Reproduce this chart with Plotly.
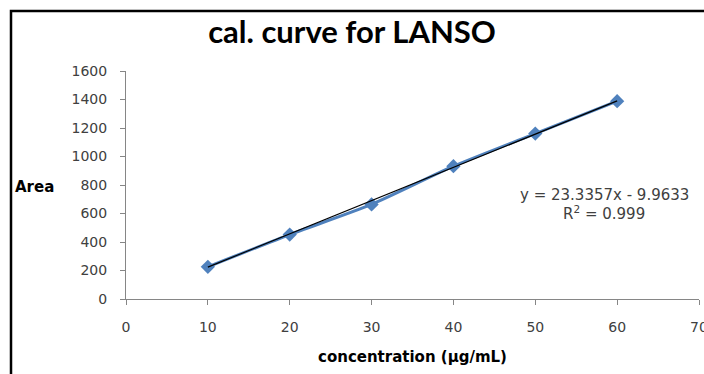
import plotly.graph_objects as go

# data
concentration = [10, 20, 30, 40, 50, 60]
area = [226, 452, 664, 932, 1161, 1388]
slope = 23.3357
intercept = -9.9633
r_squared = 0.999
x_ticks = [0, 10, 20, 30, 40, 50, 60, 70]
y_ticks = [0, 200, 400, 600, 800, 1000, 1200, 1400, 1600]

trend_x = [concentration[0], concentration[-1]]
trend_y = [slope * v + intercept for v in trend_x]

W, H = 704, 374
L, R, T, B = 126, 5, 71, 75
pw, ph = W - L - R, H - T - B

def px_to_paper_x(px):
    return (px - L) / pw

def px_to_paper_y(py):
    return (H - B - py) / ph

fig = go.Figure()
fig.add_trace(go.Scatter(
    x=concentration, y=area, mode="lines+markers",
    line=dict(color="#4F81BD", width=3, shape="spline", smoothing=0.6),
    marker=dict(symbol="diamond", size=11, color="#4F81BD"),
    showlegend=False, hoverinfo="skip"))
fig.add_trace(go.Scatter(
    x=trend_x, y=trend_y, mode="lines",
    line=dict(color="#000000", width=1.2),
    showlegend=False, hoverinfo="skip"))

axis_common = dict(showline=True, linecolor="#868686", linewidth=1,
                   ticks="outside", ticklen=5, tickcolor="#868686",
                   showgrid=False, zeroline=False)

tick_font = dict(family="DejaVu Sans", size=14, color="#404040")
x_ticktext = [str(v) if v < x_ticks[-1] else "" for v in x_ticks]

annotations = [
    dict(text="<b>Area</b>", xref="paper", yref="paper",
         x=px_to_paper_x(13), y=px_to_paper_y(187), xanchor="left", yanchor="middle",
         showarrow=False, font=dict(family="DejaVu Sans", size=15, color="#000000")),
    dict(text="<b>concentration (µg/mL)</b>", xref="paper", yref="paper",
         x=0.5, y=px_to_paper_y(357), xanchor="center", yanchor="middle",
         showarrow=False, font=dict(family="DejaVu Sans", size=15, color="#000000")),
    dict(text=f"y = {slope}x - {abs(intercept)}", xref="paper", yref="paper",
         x=px_to_paper_x(604), y=px_to_paper_y(195), xanchor="center", yanchor="middle",
         showarrow=False, font=dict(family="DejaVu Sans", size=15, color="#404040")),
    dict(text=f"R<sup>2</sup> = {r_squared}", xref="paper", yref="paper",
         x=px_to_paper_x(604), y=px_to_paper_y(213), xanchor="center", yanchor="middle",
         showarrow=False, font=dict(family="DejaVu Sans", size=15, color="#404040")),
    # last x tick label, clipped by the window edge as in the reference
    dict(text=str(x_ticks[-1]), xref="x", yref="paper",
         x=x_ticks[-1], y=px_to_paper_y(327), xanchor="center", yanchor="middle",
         showarrow=False, font=tick_font),
]

fig.update_layout(
    width=W, height=H,
    margin=dict(l=L, r=R, t=T, b=B),
    paper_bgcolor="white", plot_bgcolor="white",
    title=dict(text="<b>cal. curve for LANSO</b>", x=0.5, xanchor="center",
               y=1 - 32 / H, yanchor="middle",
               font=dict(family="Lato", size=31, color="#000000")),
    xaxis=dict(range=[0, 70], tickvals=x_ticks, ticktext=x_ticktext,
               tickfont=tick_font, ticklabelstandoff=10, **axis_common),
    yaxis=dict(range=[0, 1600], tickvals=y_ticks, ticktext=[str(v) for v in y_ticks],
               tickfont=tick_font, ticklabelstandoff=10, **axis_common),
    shapes=[dict(type="rect", xref="paper", yref="paper",
                 x0=px_to_paper_x(11), x1=px_to_paper_x(900),
                 y0=px_to_paper_y(600), y1=px_to_paper_y(11),
                 line=dict(color="#000000", width=2.5), fillcolor="rgba(0,0,0,0)",
                 layer="below")],
    annotations=annotations,
)

fig.write_html("out.html")
